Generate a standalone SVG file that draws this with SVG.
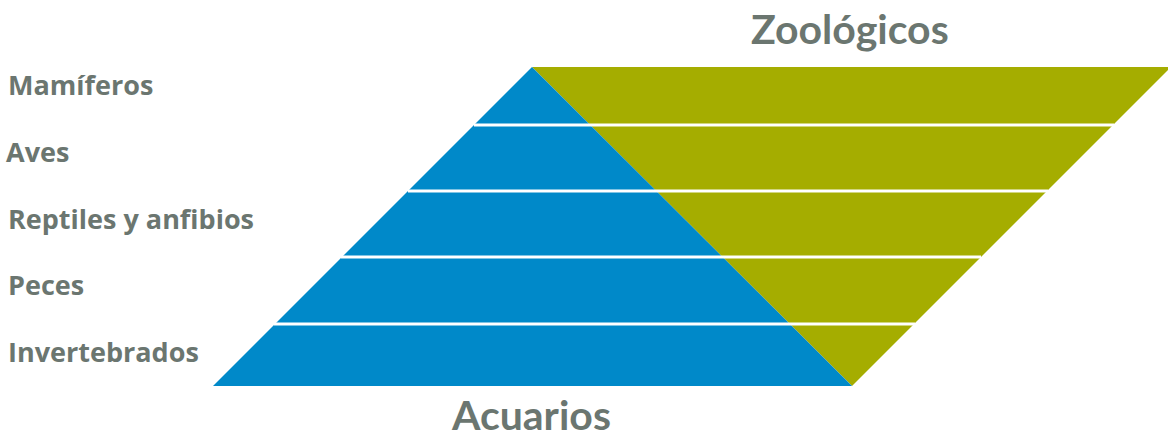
<svg xmlns="http://www.w3.org/2000/svg" width="1168" height="439" viewBox="0 0 1168 439">
<style>
.lbl{font-family:"Open Sans",Lato,"Liberation Sans",sans-serif;font-weight:bold;fill:#6B7670;font-size:27px}
.ttl{font-family:Lato,"Open Sans","Liberation Sans",sans-serif;font-weight:bold;fill:#6B7670;font-size:41px}
.sep{stroke:#FFFFFF;stroke-width:3}
</style>
<rect width="1168" height="439" fill="#FFFFFF"/>
<g id="zoologicos-shape">
<polygon points="532,67 1171,67 852,386" fill="#A5AD00"/>
</g>
<g id="acuarios-shape">
<polygon points="532,67 852,386 213,386" fill="#0089C9"/>
</g>
<g id="separators">
<line class="sep" x1="474" y1="125" x2="1114" y2="125"/>
<line class="sep" x1="408" y1="191" x2="1048" y2="191"/>
<line class="sep" x1="341" y1="257" x2="981" y2="257"/>
<line class="sep" x1="274" y1="324" x2="915" y2="324"/>
</g>
<g id="labels">
<text class="lbl" x="8" y="95">Mamíferos</text>
<text class="lbl" x="6" y="162">Aves</text>
<text class="lbl" x="8" y="229">Reptiles y anfibios</text>
<text class="lbl" x="8" y="295">Peces</text>
<text class="lbl" x="8" y="362">Invertebrados</text>
</g>
<g id="titles">
<text class="ttl" x="751" y="44">Zoológicos</text>
<text class="ttl" x="452" y="430">Acuarios</text>
</g>
</svg>
